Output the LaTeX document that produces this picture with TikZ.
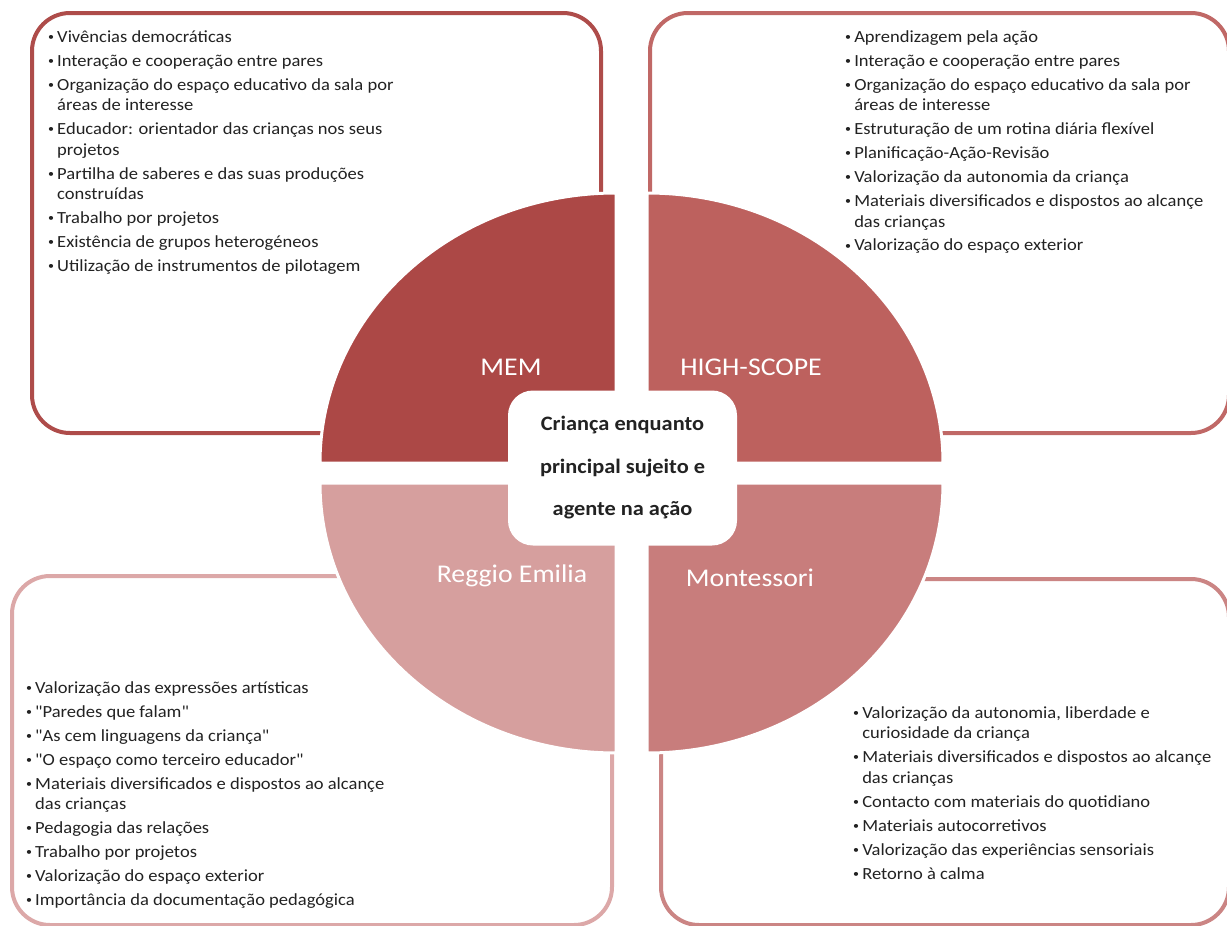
\documentclass[tikz,border=0pt]{standalone}
\usepackage{fontspec}
\setmainfont{Carlito}
\usepackage{graphicx}
\font\cqf="Carlito" at 17pt
\definecolor{memc}{HTML}{AC4846}
\definecolor{hsc}{HTML}{BD615E}
\definecolor{monc}{HTML}{C87D7C}
\definecolor{regc}{HTML}{D69F9E}
\definecolor{memo}{HTML}{AE4C4A}
\definecolor{hso}{HTML}{C06866}
\definecolor{rego}{HTML}{DCA8A8}
\definecolor{mono}{HTML}{CB8584}
\definecolor{txt}{HTML}{222222}
\newcommand\qq{{\cqf"}}
\newcommand\li[1]{\par\noindent\hangindent=8.3pt\hangafter=1\makebox[8.3pt][l]{\raisebox{1.6pt}{\fontsize{11}{11}\selectfont\textbullet}}#1}
\newcommand\lst[1]{\scalebox{1.09}[1]{\parbox[t]{400pt}{\raggedright\fontsize{17}{20.5}\selectfont\setlength\parskip{3.5pt}\setlength\parindent{0pt}#1}}}
\tikzset{
  frame/.style={line width=4pt, fill=white, rounded corners=38pt},
  quad/.style={draw=white, line width=3pt},
  lbl/.style={text=white, inner sep=0pt, font=\fontsize{25.5}{30}\selectfont},
  lst/.style={anchor=base west, inner sep=0pt, text=txt},
}
\begin{document}
\begin{tikzpicture}[x=1pt,y=-1pt]
\useasboundingbox (0,0) rectangle (1227,926);
\clip (0,0) rectangle (1227,926);
% frames
\draw[frame, draw=memo] (32,13) rectangle (601,433);
\draw[frame, draw=hso] (650,13) rectangle (1229,433);
\draw[frame, draw=rego] (12,576) rectangle (612,925);
\draw[frame, draw=mono] (661,579) rectangle (1229,925);
% quadrants
\filldraw[quad, fill=memc] (616,463) -- (616,193) arc[start angle=-90, end angle=-180, x radius=296, y radius=270] -- cycle;
\filldraw[quad, fill=hsc] (647,463) -- (647,193) arc[start angle=-90, end angle=0, x radius=296, y radius=270] -- cycle;
\filldraw[quad, fill=regc] (616,483) -- (320,483) arc[start angle=180, end angle=90, x radius=296, y radius=270] -- cycle;
\filldraw[quad, fill=monc] (647,483) -- (943,483) arc[start angle=0, end angle=90, x radius=296, y radius=270] -- cycle;
% centre
\node[fill=white, rounded corners=25pt, minimum width=229pt, minimum height=155pt, inner sep=0pt, align=center, text=txt,
  font=\bfseries\fontsize{20.5}{42.5}\selectfont] (centre) at (622.5,468)
  {\scalebox{1.09}[1]{\parbox{200pt}{\centering Criança enquanto\\ principal sujeito e\\ agente na ação}}};
% labels
\node[lbl] (mem) at (511,367) {\scalebox{1.09}[1]{MEM}};
\node[lbl] (hs) at (751,367) {\scalebox{1.09}[1]{HIGH-SCOPE}};
\node[lbl] (reg) at (512,576) {\scalebox{1.09}[1]{Reggio Emilia}};
\node[lbl] (mon) at (750,578) {\scalebox{1.09}[1]{Montessori}};
% lists
\node[lst] (memlist) at (48,42) {\lst{%
\li{Vivências democráticas}
\li{Interação e cooperação entre pares}
\li{Organização do espaço educativo da sala por\newline áreas de interesse}
\li{Educador: orientador das crianças nos seus\newline projetos}
\li{Partilha de saberes e das suas produções\newline construídas}
\li{Trabalho por projetos}
\li{Existência de grupos heterogéneos}
\li{Utilização de instrumentos de pilotagem}}};
\node[lst] (hslist) at (845,42) {\lst{%
\li{Aprendizagem pela ação}
\li{Interação e cooperação entre pares}
\li{Organização do espaço educativo da sala por\newline áreas de interesse}
\li{Estruturação de um rotina diária flexível}
\li{Planificação-Ação-Revisão}
\li{Valorização da autonomia da criança}
\li{Materiais diversificados e dispostos ao alcançe\newline das crianças}
\li{Valorização do espaço exterior}}};
\node[lst] (reglist) at (26,693) {\lst{%
\li{Valorização das expressões artísticas}
\li{\qq Paredes que falam\qq}
\li{\qq As cem linguagens da criança\qq}
\li{\qq O espaço como terceiro educador\qq}
\li{Materiais diversificados e dispostos ao alcançe\newline das crianças}
\li{Pedagogia das relações}
\li{Trabalho por projetos}
\li{Valorização do espaço exterior}
\li{Importância da documentação pedagógica}}};
\node[lst] (monlist) at (853,718) {\lst{%
\li{Valorização da autonomia, liberdade e\newline curiosidade da criança}
\li{Materiais diversificados e dispostos ao alcançe\newline das crianças}
\li{Contacto com materiais do quotidiano}
\li{Materiais autocorretivos}
\li{Valorização das experiências sensoriais}
\li{Retorno à calma}}};
\end{tikzpicture}
\end{document}
